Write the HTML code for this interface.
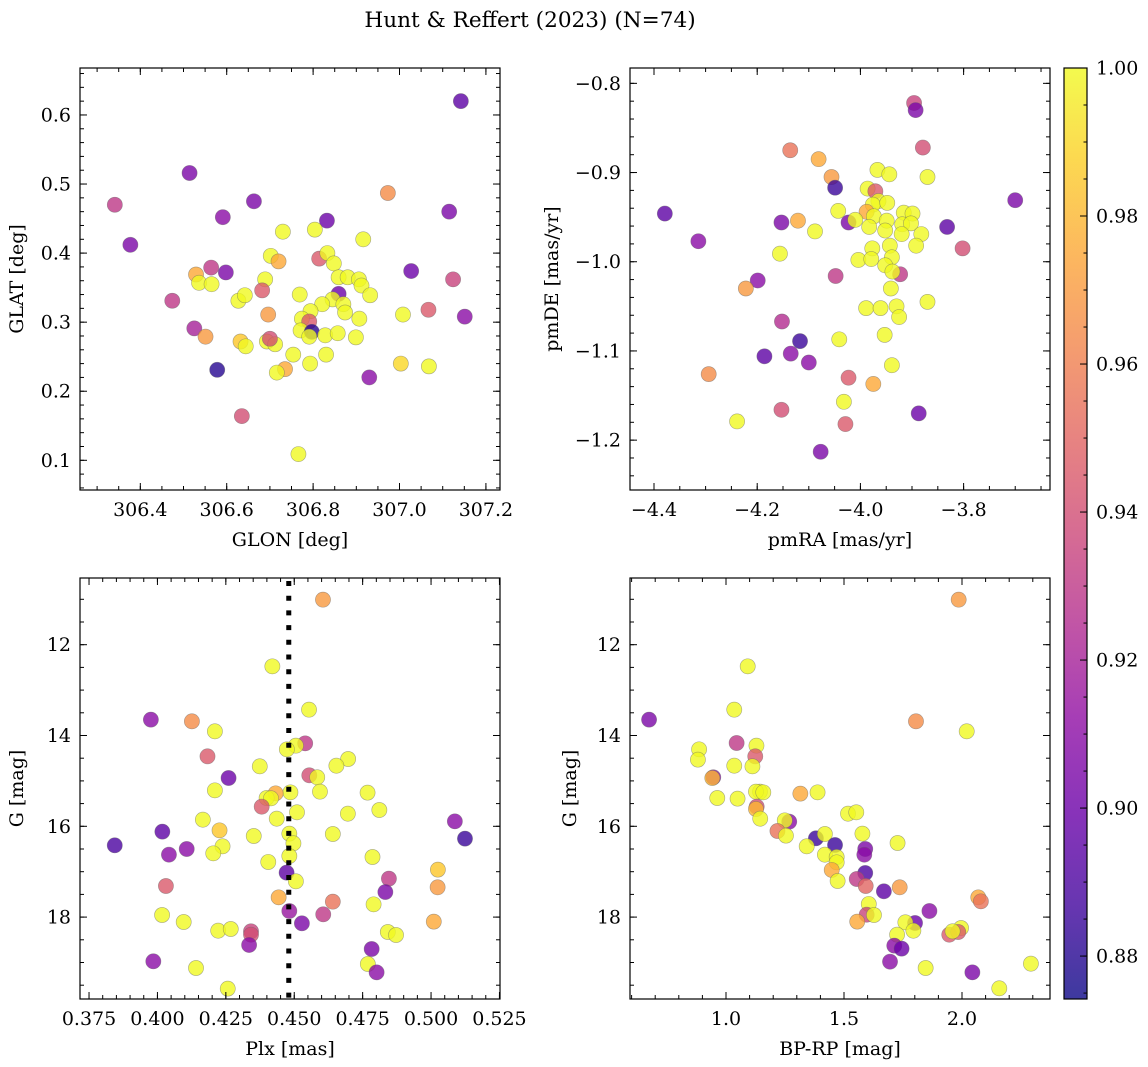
<!DOCTYPE html>
<html><head><meta charset="utf-8"><title>Hunt & Reffert (2023)</title>
<style>
html,body{margin:0;padding:0;background:#fff;}
svg{display:block;font-family:"DejaVu Serif","Liberation Serif",serif;}
</style></head>
<body>
<svg id="fig" width="1148" height="1067" viewBox="0 0 1148 1067" xmlns="http://www.w3.org/2000/svg">
<text x="530" y="27" font-size="21.6" text-anchor="middle">Hunt &amp; Reffert (2023) (N=74)</text>
</svg>
<script>
// ---- Panel 1: GLON / GLAT ----
const glon = [307.142,306.514,306.341,306.663,306.591,306.377,306.832,306.973,307.115,306.730,306.804,306.916,306.702,306.720,306.814,306.833,306.848,306.564,306.598,306.529,306.536,306.565,306.689,306.682,306.859,306.880,306.906,306.912,306.932,307.027,307.124,306.474,306.627,306.642,306.769,306.859,306.845,306.821,306.870,306.874,306.794,306.696,306.774,306.791,306.907,307.008,307.067,307.151,306.525,306.551,306.632,306.644,306.693,306.712,306.771,306.797,306.791,306.828,306.857,306.899,306.754,306.830,306.578,306.735,306.716,306.793,306.930,307.003,307.068,306.635,306.766,306.700];
const glat = [0.620,0.516,0.470,0.475,0.452,0.412,0.447,0.487,0.460,0.431,0.434,0.420,0.396,0.388,0.392,0.400,0.385,0.379,0.372,0.369,0.357,0.355,0.362,0.346,0.365,0.365,0.362,0.353,0.339,0.374,0.362,0.331,0.331,0.339,0.340,0.341,0.333,0.326,0.326,0.314,0.316,0.311,0.305,0.301,0.305,0.311,0.318,0.308,0.291,0.279,0.272,0.265,0.272,0.268,0.288,0.286,0.279,0.281,0.284,0.278,0.253,0.253,0.231,0.232,0.227,0.240,0.220,0.240,0.236,0.164,0.109,0.276];
const prob1 = [0.895,0.905,0.93,0.905,0.91,0.905,0.9,0.965,0.905,1,1,1,1,0.975,0.945,1,1,0.93,0.905,0.975,1,1,1,0.945,1,1,1,1,1,0.9,0.935,0.93,1,1,1,0.9,1,1,1,1,1,0.97,1,0.945,1,1,0.945,0.91,0.92,0.97,0.985,1,1,1,1,0.88,1,1,1,1,1,1,0.88,0.975,1,1,0.91,0.99,1,0.94,1,0.94];
// ---- Panel 2: pmRA / pmDE ----
const pmra = [-3.896,-3.893,-3.879,-4.136,-4.081,-4.056,-4.049,-3.967,-3.944,-3.870,-3.986,-3.971,-3.700,-3.965,-3.976,-3.948,-4.379,-4.043,-3.988,-3.974,-3.916,-3.899,-4.153,-4.121,-4.023,-4.010,-3.949,-3.983,-3.952,-3.919,-3.902,-3.832,-4.088,-3.920,-3.882,-4.314,-3.892,-3.802,-3.977,-3.943,-4.156,-4.004,-3.979,-3.939,-3.952,-3.923,-3.938,-4.048,-4.199,-4.222,-3.941,-3.989,-3.961,-3.930,-3.870,-3.925,-4.152,-4.041,-3.953,-4.117,-4.186,-4.135,-4.100,-3.939,-4.294,-4.023,-3.975,-4.032,-4.153,-3.887,-4.239,-4.029,-4.077];
const pmde = [-0.822,-0.830,-0.872,-0.875,-0.885,-0.905,-0.917,-0.897,-0.902,-0.905,-0.918,-0.921,-0.931,-0.932,-0.936,-0.934,-0.946,-0.943,-0.944,-0.949,-0.945,-0.946,-0.956,-0.954,-0.956,-0.953,-0.954,-0.961,-0.965,-0.958,-0.957,-0.961,-0.966,-0.969,-0.969,-0.977,-0.982,-0.985,-0.985,-0.982,-0.991,-0.998,-0.997,-0.995,-1.004,-1.014,-1.011,-1.016,-1.021,-1.030,-1.030,-1.052,-1.052,-1.050,-1.045,-1.062,-1.067,-1.087,-1.082,-1.089,-1.106,-1.103,-1.113,-1.116,-1.126,-1.130,-1.137,-1.157,-1.166,-1.170,-1.179,-1.182,-1.213];
const prob2 = [0.935,0.905,0.94,0.955,0.975,0.97,0.885,1,1,1,1,0.945,0.905,1,1,1,0.895,1,0.975,1,1,1,0.905,0.975,0.905,1,1,1,1,1,1,0.895,1,1,1,0.91,1,0.94,1,1,1,1,1,1,1,0.93,1,0.93,0.91,0.97,1,1,1,1,1,1,0.925,1,1,0.885,0.895,0.91,0.91,1,0.965,0.945,0.975,1,0.94,0.9,1,0.945,0.905];
// ---- Panel 3: Plx / G ----
const plx = [0.4605,0.4420,0.4554,0.3976,0.4126,0.4210,0.4540,0.4506,0.4473,0.4183,0.4697,0.4374,0.4654,0.4260,0.4555,0.4584,0.4210,0.4486,0.4594,0.4768,0.4432,0.4399,0.4415,0.4381,0.4811,0.4510,0.4696,0.4166,0.4436,0.5087,0.4018,0.4227,0.4482,0.4641,0.4352,0.5124,0.3844,0.4497,0.4238,0.4107,0.4042,0.4204,0.4482,0.4786,0.4405,0.4472,0.5025,0.4846,0.4506,0.4031,0.5024,0.4833,0.4443,0.4641,0.4790,0.4482,0.4606,0.4017,0.5010,0.4096,0.4528,0.4222,0.4268,0.4342,0.4342,0.4842,0.4872,0.4335,0.4783,0.3985,0.4769,0.4141,0.4801,0.4257];
const gmag3 = [11.008,12.477,13.431,13.651,13.688,13.908,14.173,14.224,14.305,14.459,14.518,14.679,14.665,14.936,14.877,14.921,15.208,15.252,15.237,15.259,15.274,15.377,15.384,15.568,15.641,15.692,15.722,15.854,15.832,15.891,16.118,16.089,16.162,16.170,16.214,16.272,16.419,16.375,16.441,16.500,16.625,16.596,16.654,16.676,16.786,17.021,16.955,17.153,17.212,17.315,17.344,17.447,17.565,17.660,17.719,17.866,17.939,17.954,18.100,18.108,18.137,18.299,18.262,18.313,18.387,18.328,18.394,18.614,18.703,18.974,19.033,19.121,19.217,19.576];
const prob3 = [0.97,1,1,0.91,0.965,1,0.93,1,1,0.945,1,1,1,0.9,0.94,1,1,1,1,1,0.975,1,1,0.945,1,1,1,1,1,0.91,0.895,0.985,1,1,1,0.885,0.89,1,1,0.91,0.91,1,1,1,1,0.895,0.985,0.93,1,0.945,0.97,0.905,0.975,0.955,1,0.915,0.93,1,0.975,1,0.905,1,1,0.935,0.94,1,1,0.91,0.905,0.91,1,1,0.91,1];
const plxRef = [0.4480];
// ---- Panel 4: BP-RP / G ----
const bprp = [1.986,1.092,1.035,0.674,1.805,2.020,1.045,1.129,0.886,1.124,0.881,1.035,1.112,0.946,0.942,1.144,1.127,1.158,1.315,1.388,0.963,1.049,1.130,1.127,1.145,1.517,1.552,1.268,1.249,1.218,1.254,1.381,1.419,1.578,1.342,1.462,1.590,1.586,1.727,1.419,1.469,1.469,1.448,1.590,1.554,1.473,1.592,1.736,1.669,2.069,2.080,1.605,1.862,1.596,1.627,1.556,1.801,1.760,1.794,1.996,1.946,1.984,1.960,1.725,1.713,1.744,1.695,1.846,2.044,2.292,2.158];
const gmag4 = [11.008,12.477,13.431,13.651,13.688,13.908,14.165,14.224,14.305,14.459,14.532,14.665,14.679,14.921,14.936,15.237,15.237,15.252,15.281,15.252,15.377,15.391,15.568,15.619,15.832,15.722,15.692,15.898,15.869,16.104,16.206,16.265,16.170,16.162,16.441,16.412,16.500,16.625,16.368,16.625,16.676,16.794,16.962,17.029,17.161,17.205,17.315,17.344,17.432,17.565,17.653,17.711,17.866,17.947,17.954,18.100,18.130,18.115,18.299,18.240,18.387,18.328,18.313,18.387,18.629,18.695,18.982,19.121,19.217,19.026,19.569];
const prob4 = [0.97,1,1,0.905,0.965,1,0.93,1,1,0.945,1,1,1,0.91,0.98,1,1,1,0.975,1,1,1,0.94,0.98,1,1,1,0.91,1,0.955,1,0.885,1,1,1,0.885,0.905,0.91,1,1,1,1,0.975,0.89,0.93,1,0.95,0.97,0.895,0.975,0.955,1,0.91,0.935,1,0.975,0.9,1,1,1,0.945,0.945,1,1,0.91,0.9,0.91,1,0.905,1,1];
// ---- Colorbar ticks ----
const cbarTicks = [0.88,0.90,0.92,0.94,0.96,0.98,1.00];

const NS = "http://www.w3.org/2000/svg";
const fig = document.getElementById('fig');
const VMIN = 0.8742, VMAX = 1.0;
const FS = 19;
const plasma = ["#0d0887","#41049d","#6a00a8","#8f0da4","#b12a90","#cc4778","#e16462","#f2844b","#fca636","#fcce25","#f0f921"];
function hex(c){return [parseInt(c.slice(1,3),16),parseInt(c.slice(3,5),16),parseInt(c.slice(5,7),16)];}
function cmap(v){
  let t=(v-VMIN)/(VMAX-VMIN); t=Math.max(0,Math.min(1,t));
  const p=t*(plasma.length-1), i=Math.min(Math.floor(p),plasma.length-2), f=p-i;
  const a=hex(plasma[i]), b=hex(plasma[i+1]);
  return "rgb("+a.map((x,k)=>Math.round(x+(b[k]-x)*f)).join(",")+")";
}
function mk(tag, attrs, parent){
  const e=document.createElementNS(NS,tag);
  for(const k in attrs) e.setAttribute(k,attrs[k]);
  (parent||fig).appendChild(e); return e;
}
function fmt(v,d){const s=Math.abs(v).toFixed(d); return (v<-1e-9?"\u2212":"")+s;}

function panel(cfg, xs, ys, ps, name){
  const {x0,y0,x1,y1,xd,yd,yinv}=cfg;
  const sx=v=>x0+(v-xd[0])/(xd[1]-xd[0])*(x1-x0);
  const sy=v=>yinv? y0+(v-yd[0])/(yd[1]-yd[0])*(y1-y0) : y1-(v-yd[0])/(yd[1]-yd[0])*(y1-y0);
  const g=mk('g',{});
  
  
  const cid='clip-'+name;
  const cp=mk('clipPath',{id:cid},g); mk('rect',{x:x0,y:y0,width:x1-x0,height:y1-y0},cp);
  const pts=mk('g',{'clip-path':'url(#'+cid+')'},g);
  
  
  for(let i=0;i<xs.length;i++){
    const c=mk('circle',{cx:sx(xs[i]).toFixed(2),cy:sy(ys[i]).toFixed(2),r:7.6,fill:cmap(ps[i]),'fill-opacity':0.8,stroke:'#666','stroke-opacity':0.55,'stroke-width':0.6},pts);
    
    
  }
  if(cfg.vline){
    const l=mk('line',{x1:sx(cfg.vline),x2:sx(cfg.vline),y1:y0+3,y2:y1,stroke:'#000','stroke-width':5,'stroke-dasharray':'5 9.7'},g);
    
    
  }
  const tk=mk('g',{stroke:'#000','stroke-width':1},g);
  function ticks(step,len,isX,labels,dec){
    const d=isX?xd:yd, lo=Math.min(d[0],d[1]), hi=Math.max(d[0],d[1]);
    const start=Math.ceil(lo/step-1e-6);
    for(let k=start;k*step<=hi+1e-9;k++){
      const v=k*step;
      if(isX){const X=sx(v);
        mk('line',{x1:X,x2:X,y1:y1,y2:y1-len},tk); mk('line',{x1:X,x2:X,y1:y0,y2:y0+len},tk);
        if(labels){const t=mk('text',{x:X,y:y1+26,'font-size':FS,'text-anchor':'middle',stroke:'none',fill:'#000'},g);t.textContent=fmt(v,dec);
          
          }
      } else {const Y=sy(v);
        mk('line',{x1:x0,x2:x0+len,y1:Y,y2:Y},tk); mk('line',{x1:x1,x2:x1-len,y1:Y,y2:Y},tk);
        if(labels){const t=mk('text',{x:x0-9,y:Y+6.5,'font-size':FS,'text-anchor':'end',stroke:'none',fill:'#000'},g);t.textContent=fmt(v,dec);
          
          }
      }
    }
  }
  ticks(cfg.xmaj,7,true,true,cfg.xdec); ticks(cfg.xmin,4,true,false);
  ticks(cfg.ymaj,7,false,true,cfg.ydec); ticks(cfg.ymin,4,false,false);
  mk('rect',{x:x0,y:y0,width:x1-x0,height:y1-y0,fill:'none',stroke:'#000','stroke-width':1.2},g);
  const xl=mk('text',{x:(x0+x1)/2,y:y1+56,'font-size':FS,'text-anchor':'middle'},g); xl.textContent=cfg.xlabel;
  
  
  const yx=cfg.ylx, yc=(y0+y1)/2;
  const yl=mk('text',{x:yx,y:yc,'font-size':FS,'text-anchor':'middle',transform:'rotate(-90 '+yx+' '+yc+')'},g); yl.textContent=cfg.ylabel;
  
  
}

panel({x0:80,y0:68,x1:500,y1:490,xd:[306.2604,307.2326],yd:[0.057,0.668],xmaj:0.2,xmin:0.05,ymaj:0.1,ymin:0.02,xdec:1,ydec:1,xlabel:'GLON [deg]',ylabel:'GLAT [deg]',ylx:23},glon,glat,prob1,'position');
panel({x0:630,y0:68,x1:1050,y1:490,xd:[-4.4465,-3.6326],yd:[-1.2559,-0.7828],xmaj:0.2,xmin:0.05,ymaj:0.1,ymin:0.02,xdec:1,ydec:1,xlabel:'pmRA [mas/yr]',ylabel:'pmDE [mas/yr]',ylx:558},pmra,pmde,prob2,'proper-motion');
panel({x0:80,y0:578,x1:500,y1:999,xd:[0.3717,0.5252],yd:[10.531,19.804],yinv:true,xmaj:0.025,xmin:0.005,ymaj:2,ymin:0.5,xdec:3,ydec:0,xlabel:'Plx [mas]',ylabel:'G [mag]',ylx:23,vline:plxRef[0]},plx,gmag3,prob3,'parallax');
panel({x0:630,y0:578,x1:1050,y1:999,xd:[0.5932,2.3729],yd:[10.531,19.804],yinv:true,xmaj:0.5,xmin:0.1,ymaj:2,ymin:0.5,xdec:1,ydec:0,xlabel:'BP-RP [mag]',ylabel:'G [mag]',ylx:576},bprp,gmag4,prob4,'cmd');

(function(){
  const cx0=1064,cx1=1087,cy0=68,cy1=999;
  const g=mk('g',{});
  
  
  const gr=mk('linearGradient',{id:'cbg',x1:0,y1:1,x2:0,y2:0},mk('defs',{},g));
  plasma.forEach((c,i)=>mk('stop',{offset:(i/(plasma.length-1)).toFixed(3),'stop-color':c},gr));
  mk('rect',{x:cx0,y:cy0,width:cx1-cx0,height:cy1-cy0,fill:'url(#cbg)','fill-opacity':0.8},g);
  const sy=v=>cy1-(v-VMIN)/(VMAX-VMIN)*(cy1-cy0);
  for(let k=Math.ceil(VMIN/0.005);k*0.005<=VMAX+1e-9;k++){
    const Y=sy(k*0.005); mk('line',{x1:cx1,x2:cx1-3.5,y1:Y,y2:Y,stroke:'#000','stroke-width':1},g);
  }
  cbarTicks.forEach(v=>{
    const Y=sy(v);
    mk('line',{x1:cx1,x2:cx1-7,y1:Y,y2:Y,stroke:'#000','stroke-width':1},g);
    const t=mk('text',{x:cx1+9,y:Y+6.5,'font-size':FS},g); t.textContent=v.toFixed(2);
    
    
  });
  mk('rect',{x:cx0,y:cy0,width:cx1-cx0,height:cy1-cy0,fill:'none',stroke:'#000','stroke-width':1.2},g);
})();
</script>
</body></html>
